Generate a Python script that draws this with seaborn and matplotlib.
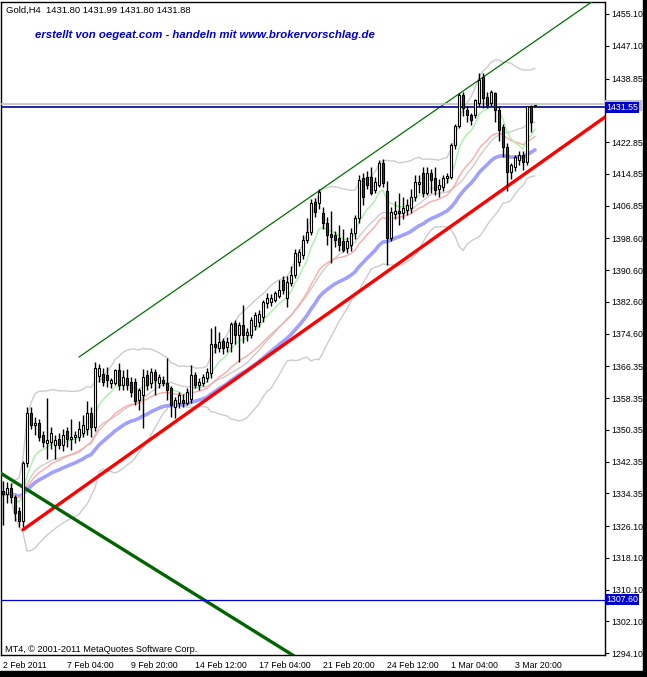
import matplotlib

matplotlib.use("Agg")
import matplotlib.pyplot as plt
import pandas as pd
import seaborn as sns
from matplotlib.patches import Rectangle

# Gold H4 candles
opens = [
    1335.0, 1334.2, 1335.6, 1333.5, 1329.8, 1327.5, 1342.0, 1354.5, 1351.5, 1352.0,
    1349.0, 1347.0, 1347.3, 1346.5, 1348.0, 1346.5, 1350.0, 1348.0, 1348.5, 1348.5,
    1349.5, 1350.5, 1354.5, 1351.0, 1363.8, 1364.5, 1364.2, 1362.2, 1362.1, 1365.4,
    1361.7, 1363.3, 1362.5, 1362.5, 1357.9, 1359.2, 1364.1, 1362.1, 1365.0, 1362.1,
    1363.0, 1362.1, 1360.8, 1356.2, 1357.0, 1357.9, 1357.0, 1358.0, 1364.1, 1361.7,
    1362.1, 1363.3, 1364.6, 1372.1, 1371.0, 1372.8, 1371.3, 1372.2, 1377.2, 1374.3,
    1376.8, 1374.3, 1374.3, 1376.5, 1377.5, 1378.9, 1382.2, 1382.6, 1383.1, 1384.0,
    1388.1, 1383.5, 1387.3, 1389.4, 1392.7, 1394.4, 1398.2, 1400.3, 1407.8, 1407.4,
    1405.0, 1402.4, 1399.6, 1399.4, 1398.6, 1397.8, 1396.1, 1396.9, 1399.9, 1403.6,
    1413.7, 1414.1, 1414.0, 1410.8, 1412.0, 1417.5, 1410.5, 1398.6, 1404.8, 1405.5,
    1405.0, 1405.8, 1406.2, 1409.1, 1412.2, 1415.0, 1410.0, 1415.0, 1413.7, 1411.0,
    1411.5, 1413.7, 1414.0, 1422.0, 1427.0, 1434.7, 1431.0, 1429.7, 1429.7, 1432.6,
    1439.3, 1434.3, 1432.6, 1435.1, 1430.9, 1426.7, 1421.7, 1415.4, 1416.6, 1418.3,
    1419.6, 1417.9, 1431.8, 1431.80,
]
highs = [
    1337.5, 1337.2, 1337.0, 1334.0, 1331.0, 1342.5, 1356.0, 1356.0, 1353.5, 1353.0,
    1350.0, 1358.5, 1351.0, 1349.0, 1349.5, 1350.5, 1351.0, 1353.0, 1350.0, 1352.5,
    1354.0, 1357.5, 1356.0, 1367.5, 1367.0, 1366.0, 1366.2, 1363.5, 1365.8, 1367.1,
    1365.4, 1365.8, 1363.7, 1363.5, 1361.0, 1365.8, 1365.4, 1366.0, 1365.8, 1364.5,
    1364.0, 1368.4, 1361.5, 1358.7, 1360.0, 1359.5, 1360.8, 1366.6, 1365.0, 1363.5,
    1364.5, 1366.0, 1376.0, 1376.6, 1375.0, 1373.5, 1373.8, 1377.6, 1378.0, 1377.6,
    1381.8, 1376.0, 1378.9, 1380.1, 1380.5, 1383.0, 1384.8, 1384.5, 1385.2, 1388.0,
    1389.0, 1389.0, 1391.5, 1396.0, 1396.0, 1399.5, 1403.6, 1408.5, 1408.8, 1411.0,
    1406.5, 1404.0, 1405.5, 1400.5, 1402.0, 1401.0, 1399.0, 1401.2, 1404.5, 1414.5,
    1415.0, 1415.5, 1416.5, 1414.0, 1418.2, 1418.5, 1413.0, 1406.5, 1408.0, 1410.0,
    1409.0, 1408.5, 1411.0, 1414.5, 1414.5, 1416.5, 1416.5, 1416.0, 1416.5, 1413.5,
    1414.5, 1415.0, 1422.5, 1427.5, 1435.2, 1435.5, 1432.0, 1430.2, 1433.8, 1440.2,
    1440.2, 1435.5, 1436.0, 1435.5, 1432.0, 1427.5, 1422.5, 1417.5, 1419.6, 1420.5,
    1420.5, 1432.0, 1432.2, 1431.99,
]
lows = [
    1326.5, 1332.0, 1332.0, 1327.5, 1326.0, 1326.0, 1341.0, 1350.5, 1349.0, 1347.5,
    1346.0, 1343.0, 1345.5, 1343.0, 1345.5, 1345.0, 1346.0, 1345.3, 1347.0, 1347.5,
    1348.5, 1349.0, 1348.5, 1350.0, 1362.5, 1361.5, 1361.2, 1361.0, 1361.7, 1360.4,
    1360.4, 1360.4, 1358.7, 1356.5, 1355.3, 1350.7, 1360.5, 1361.0, 1359.2, 1361.0,
    1361.5, 1357.9, 1353.7, 1353.3, 1355.8, 1356.0, 1356.5, 1357.0, 1360.8, 1360.5,
    1361.5, 1362.5, 1363.5, 1369.6, 1370.0, 1369.5, 1370.0, 1370.0, 1372.1, 1367.5,
    1372.2, 1372.8, 1373.5, 1375.5, 1376.3, 1377.5, 1381.0, 1381.5, 1382.5, 1383.5,
    1384.5, 1381.4, 1386.5, 1388.5, 1391.5, 1393.5, 1397.5, 1399.5, 1404.0, 1406.0,
    1401.0, 1397.0, 1392.5, 1396.5, 1395.5, 1395.2, 1395.0, 1395.5, 1398.5, 1402.5,
    1407.0, 1411.0, 1409.5, 1410.0, 1411.5, 1411.5, 1392.0, 1398.0, 1403.5, 1402.0,
    1403.5, 1404.5, 1405.0, 1408.0, 1410.0, 1409.0, 1409.5, 1410.0, 1409.5, 1409.0,
    1410.5, 1412.5, 1413.5, 1421.0, 1426.5, 1429.5, 1428.0, 1427.2, 1429.0, 1432.0,
    1431.3, 1431.3, 1432.0, 1428.0, 1423.0, 1419.2, 1410.5, 1413.5, 1415.5, 1417.0,
    1415.8, 1417.0, 1425.5, 1431.80,
]
closes = [
    1334.2, 1335.6, 1333.5, 1329.5, 1327.5, 1342.0, 1354.5, 1351.5, 1352.0, 1348.5,
    1347.3, 1347.8, 1349.5, 1347.8, 1346.5, 1349.0, 1348.0, 1348.5, 1349.0, 1350.5,
    1351.5, 1354.5, 1351.0, 1366.0, 1366.0, 1362.5, 1362.8, 1363.0, 1365.4, 1361.7,
    1363.7, 1361.7, 1360.0, 1357.5, 1360.4, 1363.7, 1361.7, 1365.0, 1362.9, 1363.7,
    1362.1, 1360.4, 1356.6, 1357.9, 1359.2, 1357.0, 1360.0, 1364.1, 1361.7, 1362.5,
    1363.7, 1365.0, 1372.0, 1371.3, 1372.5, 1370.9, 1372.6, 1376.9, 1374.3, 1376.8,
    1374.3, 1375.0, 1378.0, 1379.3, 1379.5, 1382.6, 1383.5, 1383.5, 1384.8, 1385.6,
    1385.6, 1387.7, 1389.4, 1394.8, 1395.2, 1398.2, 1400.3, 1407.4, 1405.3, 1410.3,
    1402.4, 1399.4, 1399.0, 1398.2, 1396.9, 1395.6, 1397.8, 1399.9, 1403.6, 1413.3,
    1409.1, 1412.0, 1409.9, 1412.9, 1417.5, 1412.5, 1398.6, 1405.3, 1405.5, 1405.0,
    1406.3, 1407.0, 1409.1, 1412.9, 1412.9, 1410.0, 1415.0, 1413.3, 1410.8, 1412.0,
    1413.7, 1414.4, 1422.0, 1427.0, 1434.7, 1431.3, 1429.7, 1428.4, 1433.4, 1438.5,
    1433.9, 1432.2, 1435.5, 1430.9, 1425.9, 1421.7, 1415.4, 1417.0, 1419.2, 1419.6,
    1417.9, 1431.8, 1428.0, 1431.88,
]

date_ticks = [0, 16, 32, 48, 64, 80, 96, 112, 128]
date_labels = ["2 Feb 2011", "7 Feb 04:00", "9 Feb 20:00", "14 Feb 12:00", "17 Feb 04:00",
               "21 Feb 20:00", "24 Feb 12:00", "1 Mar 04:00", "3 Mar 20:00"]
price_ticks = [1455.10, 1447.10, 1438.85, 1422.85, 1414.85, 1406.85, 1398.60, 1390.60,
               1382.60, 1374.60, 1366.35, 1358.35, 1350.35, 1342.35, 1334.35, 1326.10,
               1318.10, 1310.10, 1302.10, 1294.10]

# trend lines drawn on the chart (bar, price)
red_trend_bars = [5, 151]
red_trend_prices = [1325.2, 1429.5]
green_channel_bars = [19, 151]
green_channel_prices = [1368.7, 1460.8]
green_down_bars = [-1, 75]
green_down_prices = [1339.7, 1292.0]
level_prices = [1307.60, 1431.55]
bid_price = 1432.38

W, H = 647, 677
sns.set_style("white")
plt.rcParams["font.family"] = ["Liberation Sans", "DejaVu Sans"]

fig = plt.figure(figsize=(W / 100, H / 100), dpi=100)
ax = fig.add_axes([1 / W, 22 / H, 604 / W, 653 / H])

df = pd.DataFrame({"o": opens, "h": highs, "l": lows, "c": closes})
df["bar"] = range(len(df))
df["fast"] = df["c"].ewm(span=8, adjust=False).mean()
df["mid_ma"] = df["c"].ewm(span=21, adjust=False).mean()
df["slow"] = df["c"].ewm(span=34, adjust=False).mean()
df["bb_mid"] = df["c"].rolling(20, min_periods=3).mean()
sd = df["c"].rolling(20, min_periods=3).std(ddof=0)
df["bb_up"] = df["bb_mid"] + 2 * sd
df["bb_lo"] = df["bb_mid"] - 2 * sd

# indicators
for col, color, lw in [("bb_up", "#cccccc", 1), ("bb_lo", "#cccccc", 1), ("bb_mid", "#cccccc", 1),
                       ("slow", "#a0a0ff", 2.6), ("mid_ma", "#ffa8a8", 1), ("fast", "#a8f0a8", 1)]:
    sns.lineplot(data=df, x="bar", y=col, ax=ax, color=color, linewidth=lw, zorder=2)

# trend lines
sns.lineplot(x=red_trend_bars, y=red_trend_prices, ax=ax, color="#ff0000", linewidth=2.4, zorder=3)
sns.lineplot(x=green_channel_bars, y=green_channel_prices, ax=ax, color="#007000", linewidth=0.9, zorder=3)
sns.lineplot(x=green_down_bars, y=green_down_prices, ax=ax, color="#006400", linewidth=2.4, zorder=3)
ax.axhline(level_prices[0], color="#0000dd", linewidth=0.9, zorder=3)
ax.axhline(bid_price, color="#c0c0c0", linewidth=1.2, zorder=3)
ax.axhline(level_prices[1], color="#000099", linewidth=1.2, zorder=3)

# candles
ax.vlines(df["bar"], df["l"], df["h"], color="black", linewidth=1, zorder=4)
bull = df["c"] >= df["o"]
body_lo = df[["o", "c"]].min(axis=1)
body_h = (df["c"] - df["o"]).abs().clip(lower=0.3)
ax.bar(df["bar"][bull], body_h[bull], bottom=body_lo[bull], width=0.65,
       color="white", edgecolor="black", linewidth=0.8, zorder=5)
ax.bar(df["bar"][~bull], body_h[~bull], bottom=body_lo[~bull], width=0.65,
       color="#d00000", edgecolor="black", linewidth=0.8, zorder=5)

ax.set_xlim(-0.5, 150.5)
ax.set_ylim(1293.64, 1458.12)
ax.set_xlabel("")
ax.set_ylabel("")

ax.yaxis.tick_right()
ax.set_yticks(price_ticks)
ax.set_yticklabels([f"{p:.2f}" for p in price_ticks])
ax.set_xticks(date_ticks)
ax.set_xticklabels(date_labels, ha="left")
ax.tick_params(axis="both", direction="out", length=3, width=0.8, labelsize=6.3,
               colors="black", pad=1.5)
for s in ax.spines.values():
    s.set_color("black")
    s.set_linewidth(1)

# price boxes on the axis (the grey bid box sits mostly under the blue one)
ax.add_patch(Rectangle((1.0, bid_price - 1.6), 0.062, 2.6, transform=ax.get_yaxis_transform(),
                       facecolor="#c0c0c0", edgecolor="none", clip_on=False, zorder=9))
for p in level_prices:
    ax.text(1.002, p, f"{p:.2f}", transform=ax.get_yaxis_transform(), ha="left", va="center",
            fontsize=6.3, color="white", clip_on=False, zorder=11,
            bbox=dict(boxstyle="square,pad=0.12", fc="#0000cc", ec="none"))

# texts
fig.text(6 / W, 1 - 10 / H, "Gold,H4  1431.80 1431.99 1431.80 1431.88", fontsize=6.8,
         va="center", ha="left", color="black")
fig.text(35 / W, 1 - 35 / H, "erstellt von oegeat.com - handeln mit www.brokervorschlag.de",
         fontsize=8.2, fontweight="bold", fontstyle="italic", va="center", ha="left", color="#0000cc")
fig.text(5 / W, 1 - 649 / H, "MT4, \u00a9 2001-2011 MetaQuotes Software Corp.", fontsize=6.6,
         va="center", ha="left", color="black")

# window frame
fig.patches.append(Rectangle((643 / W, 0), 4 / W, 1, transform=fig.transFigure, color="black"))
fig.patches.append(Rectangle((0, 0), 1, 6 / H, transform=fig.transFigure, color="black"))

fig.savefig("out.png", dpi=100)
